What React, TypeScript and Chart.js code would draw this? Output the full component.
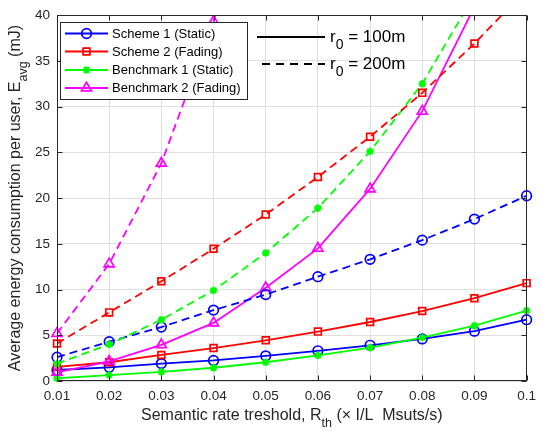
import React, { useEffect, useRef } from 'react';
import { Chart, registerables } from 'chart.js';

Chart.register(...registerables);

// ---------- data ----------
const xLabels = ['0.01', '0.02', '0.03', '0.04', '0.05', '0.06', '0.07', '0.08', '0.09', '0.1'];
const yTicks = [0, 5, 10, 15, 20, 25, 30, 35, 40];

// r0 = 100m (solid)
const scheme1_100 = [1.2, 1.5, 1.9, 2.25, 2.75, 3.3, 3.9, 4.6, 5.45, 6.7];
const scheme2_100 = [1.55, 2.05, 2.85, 3.6, 4.45, 5.4, 6.45, 7.65, 9.05, 10.7];
const bench1_100 = [0.3, 0.65, 1.0, 1.45, 2.05, 2.8, 3.65, 4.75, 6.05, 7.7];
const bench2_100 = [0.95, 2.15, 3.95, 6.35, 10.2, 14.5, 21.0, 29.5, 40.9, 56];

// r0 = 200m (dashed)
const scheme1_200 = [2.6, 4.3, 5.9, 7.75, 9.45, 11.4, 13.3, 15.4, 17.7, 20.25];
const scheme2_200 = [4.1, 7.5, 10.9, 14.45, 18.2, 22.3, 26.7, 31.5, 36.9, 42.8];
const bench1_200 = [1.9, 4.0, 6.7, 9.9, 14.0, 18.9, 25.1, 32.5, 42.2, 54];
const bench2_200 = [5.2, 12.8, 23.8, 39.3, 60, null, null, null, null, null];

const seriesNames = ['Scheme 1 (Static)', 'Scheme 2 (Fading)', 'Benchmark 1 (Static)', 'Benchmark 2 (Fading)'];
const r0Labels = ['100m', '200m'];

// ---------- styles ----------
const BLUE = '#0000ff';
const RED = '#ff0000';
const GREEN = '#00ff00';
const MAGENTA = '#ff00ff';
const AXIS = '#262626';
const GRID = '#dfdfdf';
const FONT = '"Liberation Sans", Arial, Helvetica, sans-serif';
const DASH = [8, 5];
const LINE_W = 1.8;

type Marker = 'circle' | 'rect' | 'star' | 'triangle';
const seriesStyles: { color: string; marker: Marker; radius: number; pw: number }[] = [
  { color: BLUE, marker: 'circle', radius: 4.8, pw: 1.7 },
  { color: RED, marker: 'rect', radius: 4.8, pw: 1.7 },
  { color: GREEN, marker: 'star', radius: 3.8, pw: 2 },
  { color: MAGENTA, marker: 'triangle', radius: 5.8, pw: 1.7 },
];

function drawMarker(ctx: CanvasRenderingContext2D, m: Marker, x: number, y: number, r: number, color: string, pw: number) {
  ctx.save();
  ctx.strokeStyle = color;
  ctx.lineWidth = pw;
  ctx.setLineDash([]);
  ctx.beginPath();
  if (m === 'circle') {
    ctx.arc(x, y, r, 0, Math.PI * 2);
  } else if (m === 'rect') {
    const s = r * Math.SQRT1_2;
    ctx.rect(x - s, y - s, 2 * s, 2 * s);
  } else if (m === 'triangle') {
    let a = 0;
    ctx.moveTo(x + Math.sin(a) * r, y - Math.cos(a) * r);
    a += (2 * Math.PI) / 3;
    ctx.lineTo(x + Math.sin(a) * r, y - Math.cos(a) * r);
    a += (2 * Math.PI) / 3;
    ctx.lineTo(x + Math.sin(a) * r, y - Math.cos(a) * r);
    ctx.closePath();
  } else {
    for (let k = 0; k < 4; k++) {
      const a = (k * Math.PI) / 4;
      ctx.moveTo(x - Math.cos(a) * r, y - Math.sin(a) * r);
      ctx.lineTo(x + Math.cos(a) * r, y + Math.sin(a) * r);
    }
  }
  ctx.stroke();
  ctx.restore();
}

type Seg = { t: string; sub?: boolean };
function richWidth(ctx: CanvasRenderingContext2D, segs: Seg[], size: number, subSize: number) {
  let w = 0;
  for (const s of segs) {
    ctx.font = `${s.sub ? subSize : size}px ${FONT}`;
    w += ctx.measureText(s.t).width;
  }
  return w;
}
function drawRich(
  ctx: CanvasRenderingContext2D,
  segs: Seg[],
  x: number,
  y: number,
  size: number,
  subSize: number,
  subShift: number,
  align: 'left' | 'center'
) {
  const total = richWidth(ctx, segs, size, subSize);
  let cx = align === 'center' ? x - total / 2 : x;
  ctx.textAlign = 'left';
  ctx.textBaseline = 'middle';
  for (const s of segs) {
    ctx.font = `${s.sub ? subSize : size}px ${FONT}`;
    ctx.fillText(s.t, cx, s.sub ? y + subShift : y);
    cx += ctx.measureText(s.t).width;
  }
}

const decorPlugin = {
  id: 'decor',
  afterDraw(chart: any) {
    const { ctx, chartArea } = chart;
    const { left, right, top, bottom } = chartArea;
    const xs = chart.scales.x;
    const ys = chart.scales.y;
    ctx.save();

    // box
    ctx.strokeStyle = AXIS;
    ctx.lineWidth = 1;
    ctx.setLineDash([]);
    const L = Math.round(left) + 0.5;
    const R = Math.round(right) - 0.5;
    const T = Math.round(top) + 0.5;
    const B = Math.round(bottom) - 0.5;
    ctx.strokeRect(L, T, R - L, B - T);

    // inward ticks
    const tl = 5;
    ctx.beginPath();
    xLabels.forEach((_, i) => {
      const px = Math.round(xs.getPixelForValue(i)) + 0.5;
      ctx.moveTo(px, B);
      ctx.lineTo(px, B - tl);
      ctx.moveTo(px, T);
      ctx.lineTo(px, T + tl);
    });
    yTicks.forEach((v) => {
      const py = Math.round(ys.getPixelForValue(v)) + 0.5;
      ctx.moveTo(L, py);
      ctx.lineTo(L + tl, py);
      ctx.moveTo(R, py);
      ctx.lineTo(R - tl, py);
    });
    ctx.stroke();

    // axis titles
    ctx.fillStyle = AXIS;
    drawRich(
      ctx,
      [{ t: 'Semantic rate treshold, R' }, { t: 'th', sub: true }, { t: ' (\u00d7 I/L  Msuts/s)' }],
      (left + right) / 2,
      416,
      16,
      12.5,
      8,
      'center'
    );
    ctx.save();
    ctx.translate(16, (top + bottom) / 2);
    ctx.rotate(-Math.PI / 2);
    drawRich(
      ctx,
      [{ t: 'Average energy consumption per user, E' }, { t: 'avg', sub: true }, { t: ' (mJ)' }],
      0,
      0,
      16,
      12.5,
      8,
      'center'
    );
    ctx.restore();

    // legend 1 (series)
    ctx.fillStyle = '#ffffff';
    ctx.fillRect(60, 22, 187, 77);
    ctx.strokeStyle = AXIS;
    ctx.lineWidth = 1;
    ctx.strokeRect(60.5, 22.5, 187, 77);
    const rows = [33.5, 51.5, 70, 88];
    seriesStyles.forEach((st, i) => {
      const y = rows[i];
      ctx.strokeStyle = st.color;
      ctx.lineWidth = LINE_W;
      ctx.setLineDash([]);
      ctx.beginPath();
      ctx.moveTo(65, y);
      ctx.lineTo(108, y);
      ctx.stroke();
      drawMarker(ctx, st.marker, 86.5, y, st.radius, st.color, st.pw);
      ctx.fillStyle = '#000000';
      ctx.font = `13px ${FONT}`;
      ctx.textAlign = 'left';
      ctx.textBaseline = 'middle';
      ctx.fillText(seriesNames[i], 112, y + 0.5);
    });

    // legend 2 (r0)
    const r0Rows = [37, 64];
    r0Rows.forEach((y, i) => {
      ctx.strokeStyle = '#000000';
      ctx.lineWidth = 2.2;
      ctx.setLineDash(i === 0 ? [] : [8, 6]);
      ctx.beginPath();
      ctx.moveTo(i === 0 ? 257 : 262, y);
      ctx.lineTo(325, y);
      ctx.stroke();
      ctx.setLineDash([]);
      ctx.fillStyle = '#000000';
      drawRich(ctx, [{ t: 'r' }, { t: '0', sub: true }, { t: ' = ' + r0Labels[i] }], 330, y, 17, 14, 8, 'left');
    });

    ctx.restore();
  },
};

function mkDataset(data: (number | null)[], idx: number, dashed: boolean) {
  const st = seriesStyles[idx];
  return {
    data,
    borderColor: st.color,
    backgroundColor: st.color,
    borderWidth: LINE_W,
    borderDash: dashed ? DASH : [],
    pointStyle: st.marker,
    pointRadius: st.radius,
    pointBorderWidth: st.pw,
    pointBorderColor: st.color,
    pointBackgroundColor: 'rgba(0,0,0,0)',
    tension: 0,
    spanGaps: false,
    clip: { left: 10, right: 10, top: 0, bottom: 10 },
  };
}

export default function App() {
  const ref = useRef<HTMLCanvasElement | null>(null);
  useEffect(() => {
    document.body.style.margin = '0';
    const canvas = ref.current;
    if (!canvas) return;
    const chart = new Chart(canvas, {
      type: 'line',
      data: {
        labels: xLabels,
        datasets: [
          mkDataset(bench2_200, 3, true),
          mkDataset(scheme2_200, 1, true),
          mkDataset(bench1_200, 2, true),
          mkDataset(scheme1_200, 0, true),
          mkDataset(bench2_100, 3, false),
          mkDataset(scheme2_100, 1, false),
          mkDataset(bench1_100, 2, false),
          mkDataset(scheme1_100, 0, false),
        ] as any,
      },
      options: {
        responsive: false,
        animation: false,
        devicePixelRatio: 1,
        layout: { padding: { left: 0, top: 7, right: 8, bottom: 0 } },
        plugins: {
          legend: { display: false },
          tooltip: { enabled: false },
        },
        scales: {
          x: {
            type: 'category',
            offset: false,
            afterFit: (s: any) => {
              s.height = 53;
            },
            grid: { color: GRID, drawTicks: false, offset: false },
            border: { display: false },
            ticks: {
              color: AXIS,
              font: { family: FONT, size: 13.5 },
              padding: 7,
              maxRotation: 0,
              autoSkip: false,
            },
          },
          y: {
            type: 'linear',
            min: 0,
            max: 40,
            afterFit: (s: any) => {
              s.width = 57;
            },
            grid: { color: GRID, drawTicks: false },
            border: { display: false },
            ticks: {
              stepSize: 5,
              color: AXIS,
              font: { family: FONT, size: 13.5 },
              padding: 7,
            },
          },
        },
      } as any,
      plugins: [decorPlugin],
    });
    return () => chart.destroy();
  }, []);
  return (
    <div style={{ width: 543, height: 434 }}>
      <canvas ref={ref} width={543} height={434} style={{ display: 'block', width: 543, height: 434 }} />
    </div>
  );
}
